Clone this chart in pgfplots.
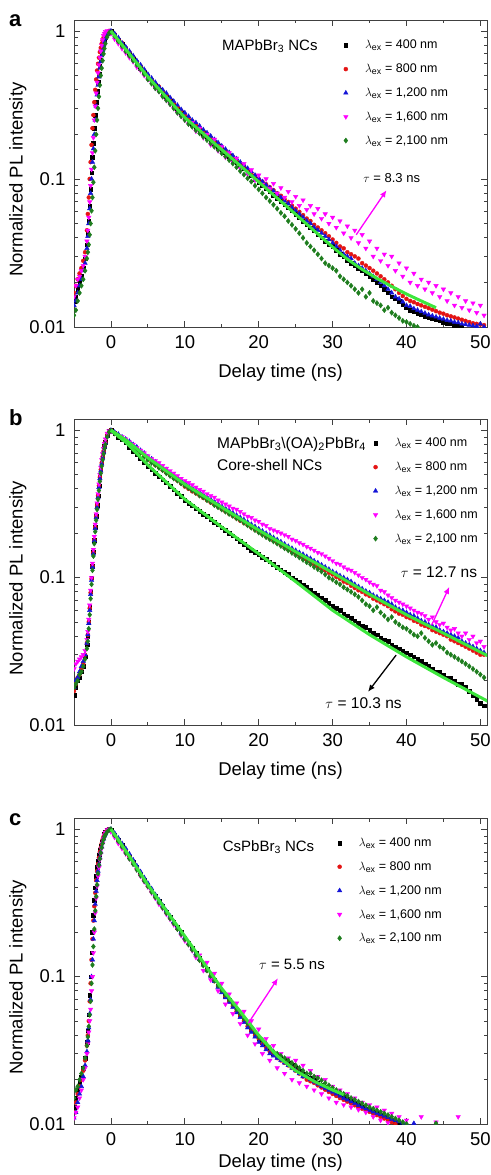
\documentclass[border=0pt]{standalone}
\usepackage{fontspec}
\setmainfont{Liberation Sans}
\usepackage{amsmath}
\usepackage{pgfplots}
\usepackage{pgfplotstable}
\pgfplotsset{compat=1.18}
\usetikzlibrary{arrows.meta}

\definecolor{cblack}{RGB}{0,0,0}
\definecolor{cred}{RGB}{228,20,20}
\definecolor{cblue}{RGB}{20,20,215}
\definecolor{cmag}{RGB}{255,0,255}
\definecolor{cgreen}{RGB}{30,125,30}
\definecolor{cfit}{RGB}{60,230,60}

\pgfplotsset{
  scale only axis, width=413pt,
  xmin=-5, xmax=50.9,
  xtick={0,10,...,50}, minor x tick num=1,
  tick align=inside, major tick length=6pt, minor tick length=3.5pt,
  axis line style={line width=0.8pt, black!75},
  tick style={black!75, line width=0.8pt},
  tick label style={font=\fontsize{18.5}{21}\selectfont},
  xticklabel style={yshift=-5pt},
  yticklabel style={xshift=-5pt},
  /pgf/number format/assume math mode=true,
  xlabel style={font=\fontsize{18.5}{21}\selectfont, at={(axis description cs:0.5,-0.15)}, anchor=center},
  ylabel style={font=\fontsize{18.5}{21}\selectfont, at={(axis description cs:-0.136,0.48)}, anchor=center},
  clip marker paths=true,
  legend cell align=left,
  legend style={draw=none, fill=none, anchor=north west,
    font=\fontsize{12.5}{15}\selectfont, row sep=9.6pt, column sep=15pt},
}
\pgfplotsset{
  serA/.style={only marks, mark=square*, mark size=1.8pt, color=cblack},
  serB/.style={only marks, mark=*, mark size=2pt, color=cred},
  serC/.style={only marks, mark=triangle*, mark size=2.6pt, color=cblue},
  serD/.style={only marks, mark=triangle*, mark size=2.6pt, mark options={rotate=180}, color=cmag},
  serE/.style={only marks, mark=diamond*, mark size=2.6pt, color=cgreen},
  fitline/.style={cfit, line width=3pt, line join=round, forget plot},
}
\newcommand{\lex}{$\lambda_{\text{ex}}$}

\pgfplotstableread{
x k r b m g
-5 0.015 0.017 0.014 0.016 0.012
-4.75 0.016 0.019 0.015 0.019 0.013
-4.5 0.018 0.021 0.017 0.021 0.015
-4.25 0.02 0.023 0.019 0.022 0.017
-4 0.022 0.025 0.021 0.024 0.019
-3.75 0.025 0.028 0.024 0.026 0.021
-3.5 0.029 0.032 0.027 0.03 0.024
-3.25 0.036 0.045 0.034 0.038 0.029
-3.125 0.043 0.058 0.041 0.045 0.032
-3 0.052 0.075 0.05 0.055 0.036
-2.875 0.066 0.1 0.063 0.07 0.042
-2.75 0.085 0.13 0.08 0.09 0.05
-2.625 0.11 0.17 0.1 0.116 0.061
-2.5 0.14 0.22 0.13 0.15 0.075
-2.375 0.175 0.27 0.16 0.19 0.095
-2.25 0.22 0.33 0.2 0.25 0.12
-2.125 0.27 0.4 0.25 0.31 0.155
-2 0.33 0.47 0.31 0.38 0.2
-1.875 0.39 0.54 0.37 0.45 0.25
-1.75 0.45 0.6 0.43 0.52 0.3
-1.625 0.51 0.66 0.49 0.59 0.36
-1.5 0.58 0.72 0.56 0.66 0.43
-1.375 0.64 0.77 0.62 0.73 0.5
-1.25 0.7 0.82 0.68 0.8 0.56
-1.125 0.76 0.86 0.74 0.87 0.63
-1 0.82 0.9 0.8 0.93 0.7
-0.875 0.86 0.93 0.85 0.96 0.76
-0.75 0.9 0.96 0.89 0.99 0.82
-0.5 0.96 0.98 0.95 1.0 0.91
-0.25 0.99 1.0 0.99 0.97 0.97
0 1.00 0.99 1.00 0.96 0.98
0.5 0.94 0.95 0.96 0.88 0.92
1 0.87 0.88 0.90 0.82 0.85
1.5 0.81 0.83 0.83 0.76 0.79
2 0.75 0.77 0.78 0.71 0.73
2.5 0.70 0.72 0.73 0.66 0.68
3 0.65 0.67 0.68 0.62 0.63
3.5 0.61 0.62 0.63 0.57 0.59
4 0.56 0.58 0.59 0.54 0.55
4.5 0.53 0.54 0.55 0.50 0.51
5 0.49 0.50 0.51 0.47 0.47
5.5 0.46 0.47 0.48 0.45 0.44
6 0.43 0.44 0.45 0.41 0.41
6.5 0.40 0.42 0.42 0.39 0.39
7 0.38 0.39 0.40 0.36 0.36
7.5 0.36 0.37 0.38 0.34 0.34
8 0.335 0.35 0.355 0.32 0.32
8.5 0.315 0.325 0.335 0.30 0.30
9 0.295 0.305 0.315 0.28 0.28
9.5 0.277 0.29 0.295 0.265 0.265
10 0.26 0.27 0.28 0.25 0.25
10.5 0.247 0.255 0.265 0.235 0.235
11 0.235 0.245 0.25 0.24 0.225
11.5 0.224 0.232 0.24 0.21 0.213
12 0.213 0.22 0.228 0.22 0.203
12.5 0.203 0.21 0.215 0.19 0.193
13 0.193 0.20 0.205 0.2 0.183
13.5 0.183 0.19 0.195 0.17 0.174
14 0.174 0.18 0.185 0.185 0.165
14.5 0.166 0.172 0.176 0.155 0.157
15 0.158 0.164 0.167 0.165 0.149
15.5 0.15 0.156 0.159 0.14 0.142
16 0.143 0.148 0.151 0.15 0.134
16.5 0.136 0.141 0.144 0.13 0.127
17 0.129 0.134 0.137 0.138 0.12
17.5 0.123 0.128 0.13 0.118 0.113
18 0.117 0.122 0.124 0.127 0.107
18.5 0.111 0.116 0.118 0.108 0.101
19 0.105 0.11 0.112 0.115 0.096
19.5 0.10 0.105 0.106 0.098 0.09
20 0.095 0.10 0.101 0.106 0.085
20.5 0.091 0.096 0.096 0.092 0.08
21 0.086 0.092 0.091 0.1 0.075
21.5 0.082 0.088 0.087 0.086 0.071
22 0.078 0.084 0.083 0.093 0.067
22.5 0.074 0.08 0.079 0.08 0.063
23 0.071 0.077 0.075 0.087 0.059
23.5 0.067 0.073 0.071 0.075 0.056
24 0.064 0.07 0.068 0.082 0.052
24.5 0.061 0.066 0.064 0.07 0.049
25 0.058 0.063 0.061 0.076 0.046
25.5 0.055 0.06 0.058 0.066 0.043
26 0.052 0.057 0.055 0.072 0.04
26.5 0.049 0.054 0.052 0.062 0.037
27 0.047 0.052 0.05 0.066 0.035
27.5 0.045 0.049 0.047 0.058 0.033
28 0.042 0.047 0.045 0.063 0.031
28.5 0.040 0.045 0.043 0.054 0.029
29 0.038 0.043 0.041 0.058 0.027
29.5 0.036 0.041 0.039 0.05 0.026
30 0.035 0.039 0.037 0.055 0.025
30.5 0.033 0.037 0.035 0.047 0.024
31 0.031 0.035 0.033 0.052 0.022
31.5 0.030 0.034 0.031 0.043 0.021
32 0.028 0.032 0.03 0.048 0.02
32.5 0.027 0.031 0.029 0.04 0.019
33 0.026 0.03 0.027 0.045 0.018
33.5 0.025 0.029 0.026 0.037 0.017
34 0.024 0.027 0.025 0.042 0.018
34.5 0.023 0.026 0.024 0.034 0.016
35 0.022 0.025 0.023 0.038 0.017
35.5 0.021 0.024 0.022 0.03 0.015
36 0.020 0.023 0.021 0.034 0.0145
36.5 0.019 0.022 0.02 0.028 0.014
37 0.018 0.021 0.019 0.031 0.013
37.5 0.017 0.02 0.018 0.026 0.0135
38 0.016 0.019 0.017 0.03 0.0125
38.5 0.0155 0.018 0.016 0.024 0.012
39 0.015 0.017 0.0155 0.027 0.0115
39.5 0.0142 0.0162 0.0148 0.022 0.011
40 0.0135 0.0155 0.014 0.025 0.0108
40.5 0.013 0.015 0.0138 0.02 0.0105
41 0.0127 0.0147 0.0133 0.023 0.0102
41.5 0.0124 0.0143 0.013 0.019 0.01
42 0.0121 0.014 0.0127 0.021 0.0099
42.5 0.0118 0.0137 0.0124 0.018 0.0098
43 0.0116 0.0134 0.0121 0.02 0.0097
43.5 0.0114 0.0131 0.0119 0.017 0.0096
44 0.0112 0.0128 0.0117 0.019 0.0095
44.5 0.011 0.0125 0.0115 0.016 0.0094
45 0.0108 0.0123 0.0113 0.018 0.0093
45.5 0.0106 0.012 0.0111 0.015 0.0092
46 0.0105 0.0118 0.011 0.017 0.0091
46.5 0.0103 0.0116 0.0108 0.014 0.009
47 0.0102 0.0114 0.0107 0.016 0.0089
47.5 0.01 0.0112 0.0105 0.0135 0.0088
48 0.0099 0.011 0.0104 0.015 0.0087
48.5 0.0098 0.0108 0.0103 0.013 0.0086
49 0.0097 0.0106 0.0102 0.0145 0.0085
49.5 0.0096 0.0105 0.0101 0.0125 0.0084
50 0.0095 0.0104 0.0105 0.014 0.0083
50.5 0.0094 0.0103 0.01 0.012 0.0082
51 0.0093 0.0102 0.0099 0.013 0.0081
}\dataA

\pgfplotstableread{
x k r b m g
-5 0.016 0.017 0.018 0.024 0.018
-4.75 0.018 0.019 0.02 0.026 0.019
-4.5 0.02 0.021 0.021 0.027 0.02
-4.25 0.021 0.022 0.023 0.028 0.022
-4 0.023 0.024 0.025 0.029 0.023
-3.75 0.025 0.026 0.027 0.03 0.025
-3.5 0.029 0.03 0.03 0.032 0.028
-3.25 0.035 0.036 0.036 0.038 0.033
-3.125 0.04 0.041 0.041 0.043 0.037
-3 0.05 0.05 0.049 0.052 0.045
-2.875 0.063 0.062 0.06 0.065 0.056
-2.75 0.08 0.079 0.077 0.082 0.072
-2.625 0.1 0.098 0.096 0.1 0.09
-2.5 0.12 0.12 0.118 0.125 0.112
-2.375 0.15 0.148 0.145 0.155 0.14
-2.25 0.18 0.18 0.178 0.19 0.17
-2.125 0.22 0.22 0.215 0.23 0.205
-2 0.26 0.26 0.255 0.27 0.245
-1.875 0.31 0.31 0.3 0.32 0.29
-1.75 0.36 0.36 0.35 0.37 0.34
-1.625 0.42 0.42 0.41 0.43 0.39
-1.5 0.48 0.48 0.47 0.5 0.45
-1.375 0.54 0.54 0.53 0.56 0.51
-1.25 0.6 0.6 0.59 0.63 0.57
-1.125 0.66 0.66 0.65 0.69 0.63
-1 0.72 0.72 0.71 0.75 0.69
-0.875 0.78 0.78 0.77 0.81 0.75
-0.75 0.83 0.83 0.82 0.87 0.8
-0.5 0.92 0.92 0.91 0.95 0.9
-0.25 0.98 0.98 0.97 0.99 0.97
0 1.0 1.0 1.0 0.98 0.99
0.5 0.95 0.96 0.97 0.95 0.95
1 0.9 0.92 0.94 0.92 0.91
1.5 0.86 0.88 0.9 0.9 0.87
2 0.82 0.85 0.87 0.87 0.84
2.5 0.77 0.81 0.84 0.83 0.8
3 0.72 0.77 0.8 0.8 0.76
3.5 0.68 0.74 0.77 0.76 0.73
4 0.64 0.7 0.73 0.73 0.7
4.5 0.6 0.67 0.7 0.7 0.66
5 0.57 0.64 0.66 0.67 0.63
5.5 0.54 0.61 0.64 0.64 0.6
6 0.51 0.58 0.61 0.62 0.58
6.5 0.485 0.56 0.585 0.6 0.555
7 0.46 0.535 0.56 0.575 0.535
7.5 0.44 0.515 0.54 0.55 0.51
8 0.415 0.495 0.515 0.53 0.49
8.5 0.395 0.475 0.495 0.51 0.47
9 0.375 0.455 0.475 0.49 0.455
9.5 0.355 0.435 0.455 0.47 0.435
10 0.335 0.415 0.44 0.455 0.42
10.5 0.32 0.4 0.42 0.44 0.405
11 0.307 0.385 0.405 0.425 0.39
11.5 0.294 0.373 0.39 0.41 0.375
12 0.282 0.36 0.38 0.395 0.36
12.5 0.27 0.347 0.365 0.385 0.35
13 0.26 0.335 0.353 0.37 0.335
13.5 0.249 0.323 0.34 0.36 0.325
14 0.238 0.312 0.328 0.35 0.31
14.5 0.228 0.302 0.317 0.335 0.3
15 0.218 0.291 0.305 0.325 0.29
15.5 0.209 0.281 0.295 0.315 0.28
16 0.2 0.271 0.285 0.305 0.27
16.5 0.192 0.262 0.275 0.295 0.262
17 0.184 0.252 0.265 0.29 0.252
17.5 0.176 0.243 0.256 0.28 0.245
18 0.168 0.235 0.247 0.27 0.235
18.5 0.161 0.227 0.238 0.26 0.226
19 0.154 0.219 0.23 0.255 0.218
19.5 0.149 0.211 0.222 0.245 0.21
20 0.144 0.204 0.214 0.24 0.202
20.5 0.138 0.197 0.207 0.23 0.195
21 0.133 0.19 0.2 0.225 0.188
21.5 0.128 0.184 0.194 0.215 0.182
22 0.123 0.178 0.187 0.21 0.176
22.5 0.118 0.172 0.181 0.205 0.17
23 0.113 0.166 0.175 0.2 0.164
23.5 0.109 0.161 0.169 0.195 0.158
24 0.105 0.155 0.163 0.19 0.153
24.5 0.1 0.15 0.158 0.182 0.147
25 0.097 0.145 0.153 0.178 0.142
25.5 0.093 0.141 0.148 0.172 0.137
26 0.089 0.137 0.144 0.168 0.132
26.5 0.086 0.132 0.139 0.162 0.127
27 0.082 0.128 0.135 0.158 0.123
27.5 0.079 0.123 0.13 0.153 0.118
28 0.076 0.119 0.126 0.148 0.114
28.5 0.073 0.115 0.122 0.145 0.11
29 0.07 0.112 0.118 0.14 0.105
29.5 0.067 0.108 0.114 0.135 0.1
30 0.064 0.105 0.11 0.13 0.097
30.5 0.062 0.101 0.107 0.125 0.093
31 0.06 0.098 0.103 0.123 0.09
31.5 0.057 0.094 0.1 0.118 0.086
32 0.055 0.092 0.097 0.114 0.083
32.5 0.053 0.088 0.094 0.112 0.08
33 0.051 0.085 0.09 0.108 0.077
33.5 0.049 0.082 0.087 0.104 0.074
34 0.047 0.08 0.084 0.1 0.07
34.5 0.046 0.077 0.081 0.097 0.066
35 0.044 0.075 0.079 0.093 0.064
35.5 0.042 0.072 0.076 0.09 0.06
36 0.041 0.07 0.074 0.088 0.063
36.5 0.039 0.068 0.072 0.082 0.058
37 0.038 0.066 0.07 0.08 0.055
37.5 0.037 0.064 0.068 0.076 0.052
38 0.035 0.061 0.066 0.073 0.054
38.5 0.034 0.059 0.063 0.07 0.05
39 0.033 0.057 0.061 0.068 0.048
39.5 0.032 0.056 0.06 0.066 0.046
40 0.031 0.054 0.058 0.064 0.045
40.5 0.03 0.053 0.056 0.062 0.043
41 0.029 0.051 0.055 0.06 0.041
41.5 0.028 0.05 0.053 0.058 0.04
42 0.027 0.048 0.051 0.057 0.042
42.5 0.026 0.047 0.05 0.055 0.039
43 0.025 0.046 0.048 0.052 0.037
43.5 0.024 0.044 0.047 0.054 0.035
44 0.023 0.043 0.046 0.05 0.036
44.5 0.023 0.042 0.044 0.048 0.034
45 0.022 0.041 0.043 0.049 0.033
45.5 0.021 0.04 0.042 0.046 0.031
46 0.021 0.038 0.041 0.044 0.03
46.5 0.02 0.037 0.04 0.045 0.029
47 0.019 0.036 0.039 0.042 0.028
47.5 0.019 0.035 0.037 0.04 0.027
48 0.018 0.034 0.036 0.042 0.026
48.5 0.017 0.033 0.035 0.038 0.025
49 0.016 0.032 0.034 0.04 0.024
49.5 0.015 0.031 0.033 0.036 0.023
50 0.014 0.03 0.032 0.037 0.022
50.5 0.0135 0.03 0.031 0.034 0.021
51 0.013 0.029 0.03 0.035 0.02
}\dataB

\pgfplotstableread{
x k r b m g
-5 0.013 0.012 0.011 0.011 0.015
-4.75 0.015 0.014 0.012 0.012 0.017
-4.5 0.017 0.016 0.014 0.013 0.018
-4.25 0.019 0.018 0.016 0.015 0.02
-4 0.021 0.02 0.018 0.017 0.022
-3.75 0.024 0.023 0.021 0.02 0.024
-3.5 0.028 0.027 0.025 0.024 0.028
-3.25 0.036 0.034 0.031 0.03 0.034
-3.125 0.043 0.04 0.037 0.035 0.039
-3 0.055 0.05 0.045 0.042 0.046
-2.875 0.075 0.068 0.056 0.05 0.055
-2.75 0.1 0.09 0.07 0.06 0.068
-2.625 0.145 0.13 0.1 0.08 0.09
-2.5 0.2 0.18 0.13 0.1 0.12
-2.375 0.26 0.24 0.18 0.145 0.16
-2.25 0.33 0.3 0.24 0.2 0.21
-2.125 0.4 0.37 0.31 0.27 0.28
-2 0.48 0.45 0.38 0.34 0.35
-1.875 0.55 0.52 0.45 0.41 0.42
-1.75 0.61 0.58 0.52 0.48 0.5
-1.625 0.67 0.64 0.58 0.55 0.57
-1.5 0.72 0.7 0.64 0.62 0.63
-1.375 0.77 0.75 0.7 0.68 0.69
-1.25 0.82 0.8 0.76 0.74 0.75
-1.125 0.86 0.85 0.81 0.8 0.8
-1 0.9 0.89 0.86 0.86 0.85
-0.875 0.93 0.92 0.9 0.91 0.89
-0.75 0.96 0.95 0.93 0.95 0.92
-0.5 0.99 0.98 0.97 0.99 0.96
-0.25 1.0 1.0 0.99 1.0 0.99
0 0.99 0.98 1.0 0.96 1.0
0.5 0.92 0.91 0.94 0.88 0.91
1 0.85 0.84 0.87 0.8 0.83
1.5 0.78 0.77 0.8 0.74 0.76
2 0.71 0.71 0.74 0.68 0.69
2.5 0.65 0.65 0.68 0.63 0.63
3 0.6 0.59 0.62 0.58 0.58
3.5 0.55 0.54 0.565 0.53 0.53
4 0.5 0.49 0.515 0.48 0.485
4.5 0.455 0.45 0.47 0.44 0.445
5 0.415 0.41 0.43 0.405 0.41
5.5 0.383 0.378 0.395 0.37 0.375
6 0.353 0.348 0.36 0.34 0.345
6.5 0.325 0.32 0.332 0.31 0.318
7 0.3 0.295 0.305 0.29 0.293
7.5 0.276 0.272 0.28 0.265 0.27
8 0.255 0.25 0.258 0.245 0.248
8.5 0.235 0.23 0.237 0.225 0.229
9 0.216 0.212 0.218 0.21 0.21
9.5 0.2 0.196 0.2 0.19 0.194
10 0.184 0.18 0.184 0.175 0.179
10.5 0.17 0.166 0.169 0.165 0.165
11 0.156 0.153 0.155 0.15 0.152
11.5 0.144 0.141 0.143 0.135 0.14
12 0.133 0.13 0.131 0.14 0.129
12.5 0.122 0.12 0.12 0.11 0.119
13 0.112 0.11 0.11 0.125 0.11
13.5 0.103 0.101 0.101 0.095 0.101
14 0.095 0.093 0.093 0.105 0.094
14.5 0.087 0.086 0.085 0.08 0.087
15 0.08 0.079 0.078 0.09 0.081
15.5 0.074 0.073 0.072 0.065 0.075
16 0.069 0.068 0.067 0.076 0.07
16.5 0.064 0.063 0.062 0.056 0.065
17 0.059 0.058 0.057 0.066 0.06
17.5 0.055 0.054 0.053 0.048 0.056
18 0.051 0.05 0.049 0.058 0.052
18.5 0.047 0.046 0.045 0.04 0.048
19 0.044 0.043 0.042 0.05 0.045
19.5 0.041 0.04 0.039 0.035 0.042
20 0.038 0.038 0.036 0.044 0.039
20.5 0.036 0.035 0.034 0.03 0.037
21 0.034 0.033 0.032 0.038 0.035
21.5 0.032 0.031 0.03 0.027 0.033
22 0.03 0.03 0.029 0.034 0.031
22.5 0.029 0.028 0.028 0.024 0.03
23 0.028 0.027 0.027 0.03 0.029
23.5 0.027 0.026 0.026 0.022 0.028
24 0.026 0.025 0.025 0.028 0.027
24.5 0.025 0.024 0.024 0.02 0.026
25 0.024 0.023 0.023 0.027 0.025
25.5 0.023 0.022 0.022 0.019 0.024
26 0.022 0.021 0.021 0.025 0.023
26.5 0.021 0.02 0.021 0.018 0.022
27 0.0205 0.0195 0.02 0.023 0.022
27.5 0.0198 0.019 0.0193 0.017 0.021
28 0.019 0.0183 0.0187 0.021 0.0205
28.5 0.0184 0.0177 0.018 0.016 0.0198
29 0.0178 0.0171 0.0175 0.02 0.019
29.5 0.0172 0.0165 0.017 0.015 0.0183
30 0.0167 0.016 0.0165 0.018 0.0176
30.5 0.0162 0.0155 0.016 0.014 0.017
31 0.0157 0.015 0.0155 0.017 0.0165
31.5 0.0152 0.0146 0.015 0.0135 0.016
32 0.0148 0.0142 0.0146 0.016 0.0155
32.5 0.0143 0.0138 0.0142 0.013 0.015
33 0.0139 0.0134 0.0138 0.015 0.0146
33.5 0.0135 0.013 0.0134 0.0125 0.0142
34 0.0131 0.0127 0.013 0.014 0.0138
34.5 0.0127 0.0124 0.0127 0.012 0.0134
35 0.0124 0.0121 0.0124 0.0135 0.013
35.5 0.0121 0.0118 0.0121 0.0112 0.0127
36 0.0118 0.0115 0.0118 0.013 0.0124
36.5 0.0115 0.0112 0.0116 0.0106 0.0121
37 0.0112 0.0109 0.0113 0.0124 0.0118
37.5 0.0109 0.0106 0.0111 0.0102 0.0115
38 0.0106 0.0103 0.0108 0.0118 0.0112
38.5 0.0103 0.01 0.0106 0.0098 0.0109
39 0.01 0.0098 0.0104 0.0112 0.0106
39.5 0.0098 0.0096 0.0102 0.0094 0.0103
40 0.0096 0.0094 0.01 0.0106 0.01
41 0.0093 0.0091 0.0101 0.009 0.0096
42 0.009 0.0088 0.0093 0.0112 0.0093
43 0.0087 0.0085 0.009 0.0088 0.009
44 0.0085 0.0083 0.0088 0.0103 0.0101
45 0.0083 0.0081 0.0086 0.0098 0.0087
46 0.0081 0.008 0.0085 0.0086 0.0085
47 0.008 0.0078 0.0084 0.0112 0.0084
48 0.0078 0.0077 0.0083 0.0085 0.0083
49 0.0077 0.0076 0.0082 0.0084 0.0082
50 0.0076 0.0075 0.0081 0.0083 0.0081
}\dataC

\begin{document}
\begin{tikzpicture}
\useasboundingbox (0,0) rectangle (490pt,-1175pt);
\node[anchor=base west, inner sep=0, font=\bfseries\fontsize{22}{22}\selectfont] at (9pt,-27pt) {a};
\node[anchor=base west, inner sep=0, font=\bfseries\fontsize{22}{22}\selectfont] at (9pt,-425pt) {b};
\node[anchor=base west, inner sep=0, font=\bfseries\fontsize{22}{22}\selectfont] at (9pt,-825pt) {c};

% panel a
\begin{axis}[at={(74pt,-20pt)}, anchor=north west, height=307pt,
  ymode=log, ymin=0.01, ymax=1.185,
  ytick={0.01,0.1,1}, yticklabels={0.01,0.1,1},
  xlabel={Delay time (ns)}, ylabel={Normalized PL intensity},
  legend style={at={(0.645,0.948)}}]
\addplot[serA] table[x=x,y=k]{\dataA};
\addplot[serB] table[x=x,y=r]{\dataA};
\addplot[serC] table[x=x,y=b]{\dataA};
\addplot[serD] table[x=x,y=m]{\dataA};
\addplot[serE] table[x=x,y=g]{\dataA};
\addplot[fitline] coordinates {(0,1) (1,0.867) (2,0.752) (3,0.652) (4,0.565) (5,0.49) (6,0.431) (7,0.38) (8,0.335) (9,0.295) (10,0.26) (12,0.213) (14,0.174) (16,0.143) (18,0.117) (20,0.0955) (22,0.078) (24,0.064) (26,0.0521) (28,0.0425) (30,0.0347) (32,0.0287) (34,0.0245) (36,0.0213) (38,0.0188) (40,0.0167) (42,0.015) (44,0.0135)};
\legend{{\lex{} = 400 nm}, {\lex{} = 800 nm}, {\lex{} = 1,200 nm}, {\lex{} = 1,600 nm}, {\lex{} = 2,100 nm}}
\node[anchor=base west, inner sep=0, font=\fontsize{15}{18}\selectfont] at (rel axis cs:0.358,0.902) {MAPbBr\textsubscript{3} NCs};
\node[font=\fontsize{13}{15}\selectfont] at (axis cs:38,0.102) {$\tau$ = 8.3 ns};
\draw[cmag, line width=1.3pt, -{Latex[length=7pt,width=6pt]}] (axis cs:33.2,0.042) -- (axis cs:37.3,0.084);
\end{axis}

% panel b
\begin{axis}[at={(74pt,-419.3pt)}, anchor=north west, height=305.7pt,
  ymode=log, ymin=0.01, ymax=1.185,
  ytick={0.01,0.1,1}, yticklabels={0.01,0.1,1},
  xlabel={Delay time (ns)}, ylabel={Normalized PL intensity},
  legend style={at={(0.717,0.952)}}]
\addplot[serA] table[x=x,y=k]{\dataB};
\addplot[serB] table[x=x,y=r]{\dataB};
\addplot[serC] table[x=x,y=b]{\dataB};
\addplot[serD] table[x=x,y=m]{\dataB};
\addplot[serE] table[x=x,y=g]{\dataB};
\addplot[fitline] coordinates {(0,1) (2,0.86) (5,0.65) (10,0.43) (15,0.3) (20,0.21) (25,0.15) (30,0.108) (35,0.077) (40,0.056) (45,0.042) (51,0.0295)};
\addplot[fitline] coordinates {(0,1) (2,0.83) (5,0.58) (10,0.34) (15,0.22) (20,0.145) (25,0.094) (30,0.06) (35,0.041) (40,0.029) (45,0.021) (51,0.0145)};
\legend{{\lex{} = 400 nm}, {\lex{} = 800 nm}, {\lex{} = 1,200 nm}, {\lex{} = 1,600 nm}, {\lex{} = 2,100 nm}}
\node[anchor=base west, inner sep=0, font=\fontsize{15.5}{18}\selectfont] at (rel axis cs:0.346,0.905) {MAPbBr\textsubscript{3}\textbackslash(OA)\textsubscript{2}PbBr\textsubscript{4}};
\node[anchor=base west, inner sep=0, font=\fontsize{15.5}{18}\selectfont] at (rel axis cs:0.346,0.831) {Core-shell NCs};
\node[font=\fontsize{15.5}{18}\selectfont] at (axis cs:44.4,0.109) {$\tau$ = 12.7 ns};
\draw[cmag, line width=1.3pt, -{Latex[length=7pt,width=6pt]}] (axis cs:43.4,0.0476) -- (axis cs:45.8,0.0866);
\node[font=\fontsize{15.5}{18}\selectfont] at (axis cs:34.2,0.014) {$\tau$ = 10.3 ns};
\draw[black, line width=1.3pt, -{Latex[length=7pt,width=6pt]}] (axis cs:38.6,0.0298) -- (axis cs:34.8,0.0168);
\end{axis}

% panel c
\begin{axis}[at={(74pt,-818.3pt)}, anchor=north west, height=305.7pt,
  ymode=log, ymin=0.01, ymax=1.185,
  ytick={0.01,0.1,1}, yticklabels={0.01,0.1,1},
  xlabel={Delay time (ns)}, ylabel={Normalized PL intensity},
  xlabel style={at={(axis description cs:0.5,-0.128)}},
  legend style={at={(0.63,0.95)}}]
\addplot[serA] table[x=x,y=k]{\dataC};
\addplot[serB] table[x=x,y=r]{\dataC};
\addplot[serC] table[x=x,y=b]{\dataC};
\addplot[serD] table[x=x,y=m]{\dataC};
\addplot[serE] table[x=x,y=g]{\dataC};
\addplot[fitline] coordinates {(0,1) (1,0.85) (3,0.6) (5,0.42) (7.5,0.28) (10,0.188) (12.5,0.125) (15,0.083) (17.5,0.058) (20,0.04) (22.5,0.029) (25,0.023) (27.5,0.0195) (30,0.017) (31.5,0.0158)};
\legend{{\lex{} = 400 nm}, {\lex{} = 800 nm}, {\lex{} = 1,200 nm}, {\lex{} = 1,600 nm}, {\lex{} = 2,100 nm}}
\node[anchor=base west, inner sep=0, font=\fontsize{15}{18}\selectfont] at (rel axis cs:0.36,0.893) {CsPbBr\textsubscript{3} NCs};
\node[font=\fontsize{15}{18}\selectfont] at (axis cs:24.5,0.121) {$\tau$ = 5.5 ns};
\draw[cmag, line width=1.3pt, -{Latex[length=7pt,width=6pt]}] (axis cs:18.6,0.0483) -- (axis cs:22.6,0.0975);
\end{axis}
\end{tikzpicture}
\end{document}
